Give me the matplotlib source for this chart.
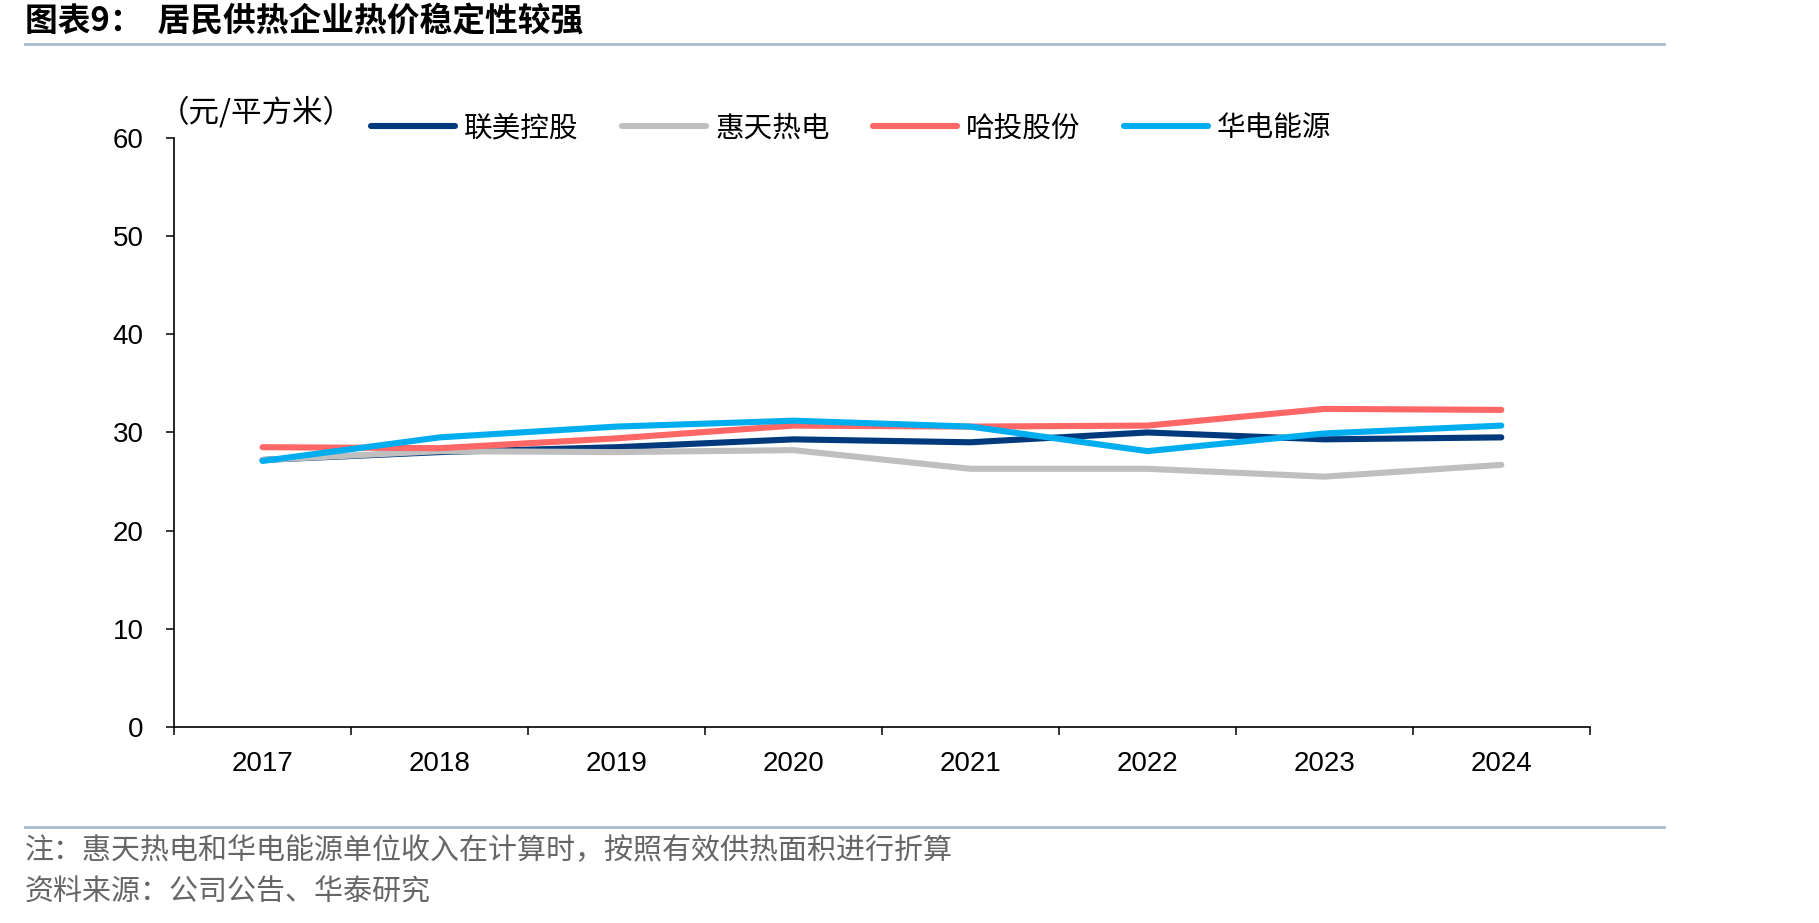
import matplotlib
matplotlib.use("Agg")
import matplotlib.pyplot as plt
from matplotlib.lines import Line2D

# data (元/平方米)
years = ["2017", "2018", "2019", "2020", "2021", "2022", "2023", "2024"]
lianmei = [27.2, 28.0, 28.5, 29.3, 29.0, 30.0, 29.3, 29.5]   # 联美控股
huitian = [27.2, 28.1, 28.0, 28.2, 26.3, 26.3, 25.5, 26.7]   # 惠天热电
hatou = [28.5, 28.4, 29.4, 30.7, 30.6, 30.7, 32.4, 32.3]     # 哈投股份
huadian = [27.1, 29.5, 30.6, 31.2, 30.6, 28.1, 29.9, 30.7]   # 华电能源
series_names = ["联美控股", "惠天热电", "哈投股份", "华电能源"]
yticks = [0, 10, 20, 30, 40, 50, 60]

colors = ["#003A7D", "#BFBFBF", "#FF6666", "#00AEEF"]
cjk = ["Noto Sans CJK SC", "DejaVu Sans"]
plt.rcParams["font.family"] = ["Liberation Sans", "Noto Sans CJK SC"]

fig = plt.figure(figsize=(18.19, 9.23), dpi=100)
ax = fig.add_axes([0.0957, 0.2124, 0.7783, 0.6381])

x = list(range(len(years)))
for vals, c in zip([lianmei, huitian, hatou, huadian], colors):
    ax.plot(x, vals, color=c, lw=4.4, solid_capstyle="round", solid_joinstyle="round")

ax.set_xlim(-0.5, len(years) - 0.5)
ax.set_ylim(0, 60)
ax.set_yticks(yticks)
ax.set_xticks(x)
ax.set_xticklabels(years)
ax.set_xticks([i - 0.5 for i in range(len(years) + 1)], minor=True)
ax.tick_params(axis="x", which="major", length=0, pad=17, labelsize=20)
ax.tick_params(axis="x", which="minor", length=6, width=1.1, direction="out")
ax.tick_params(axis="y", length=6, width=1.1, pad=16, labelsize=20)
for s in ["top", "right"]:
    ax.spines[s].set_visible(False)
for s in ["left", "bottom"]:
    ax.spines[s].set_linewidth(1.2)

# legend
handles = [Line2D([], [], color=c, lw=4.4, solid_capstyle="round") for c in colors]
leg = fig.legend(handles, series_names, loc="center left", bbox_to_anchor=(0.204, 0.861),
                 ncol=4, frameon=False, handlelength=2.95, handletextpad=0.3,
                 columnspacing=1.52, borderpad=0, borderaxespad=0,
                 prop={"family": cjk, "size": 20.6})

fig.text(0.087, 0.878, "（元/平方米）", family=cjk, fontsize=22, va="center", ha="left")

# title and frame lines
fig.text(0.0137, 0.976, "图表9：  居民供热企业热价稳定性较强", family=cjk, fontsize=23.6,
         fontweight="bold", va="center", ha="left")
fig.add_artist(Line2D([0.0137, 0.915], [0.952, 0.952], color="#A9BCD0", lw=2))
fig.add_artist(Line2D([0.0137, 0.915], [0.104, 0.104], color="#A9BCD0", lw=2))

fig.text(0.0137, 0.078, "注：惠天热电和华电能源单位收入在计算时，按照有效供热面积进行折算",
         family=cjk, fontsize=20.9, color="#666666", va="center", ha="left")
fig.text(0.0137, 0.0325, "资料来源：公司公告、华泰研究",
         family=cjk, fontsize=20.9, color="#666666", va="center", ha="left")

fig.savefig("out.png", dpi=100)
